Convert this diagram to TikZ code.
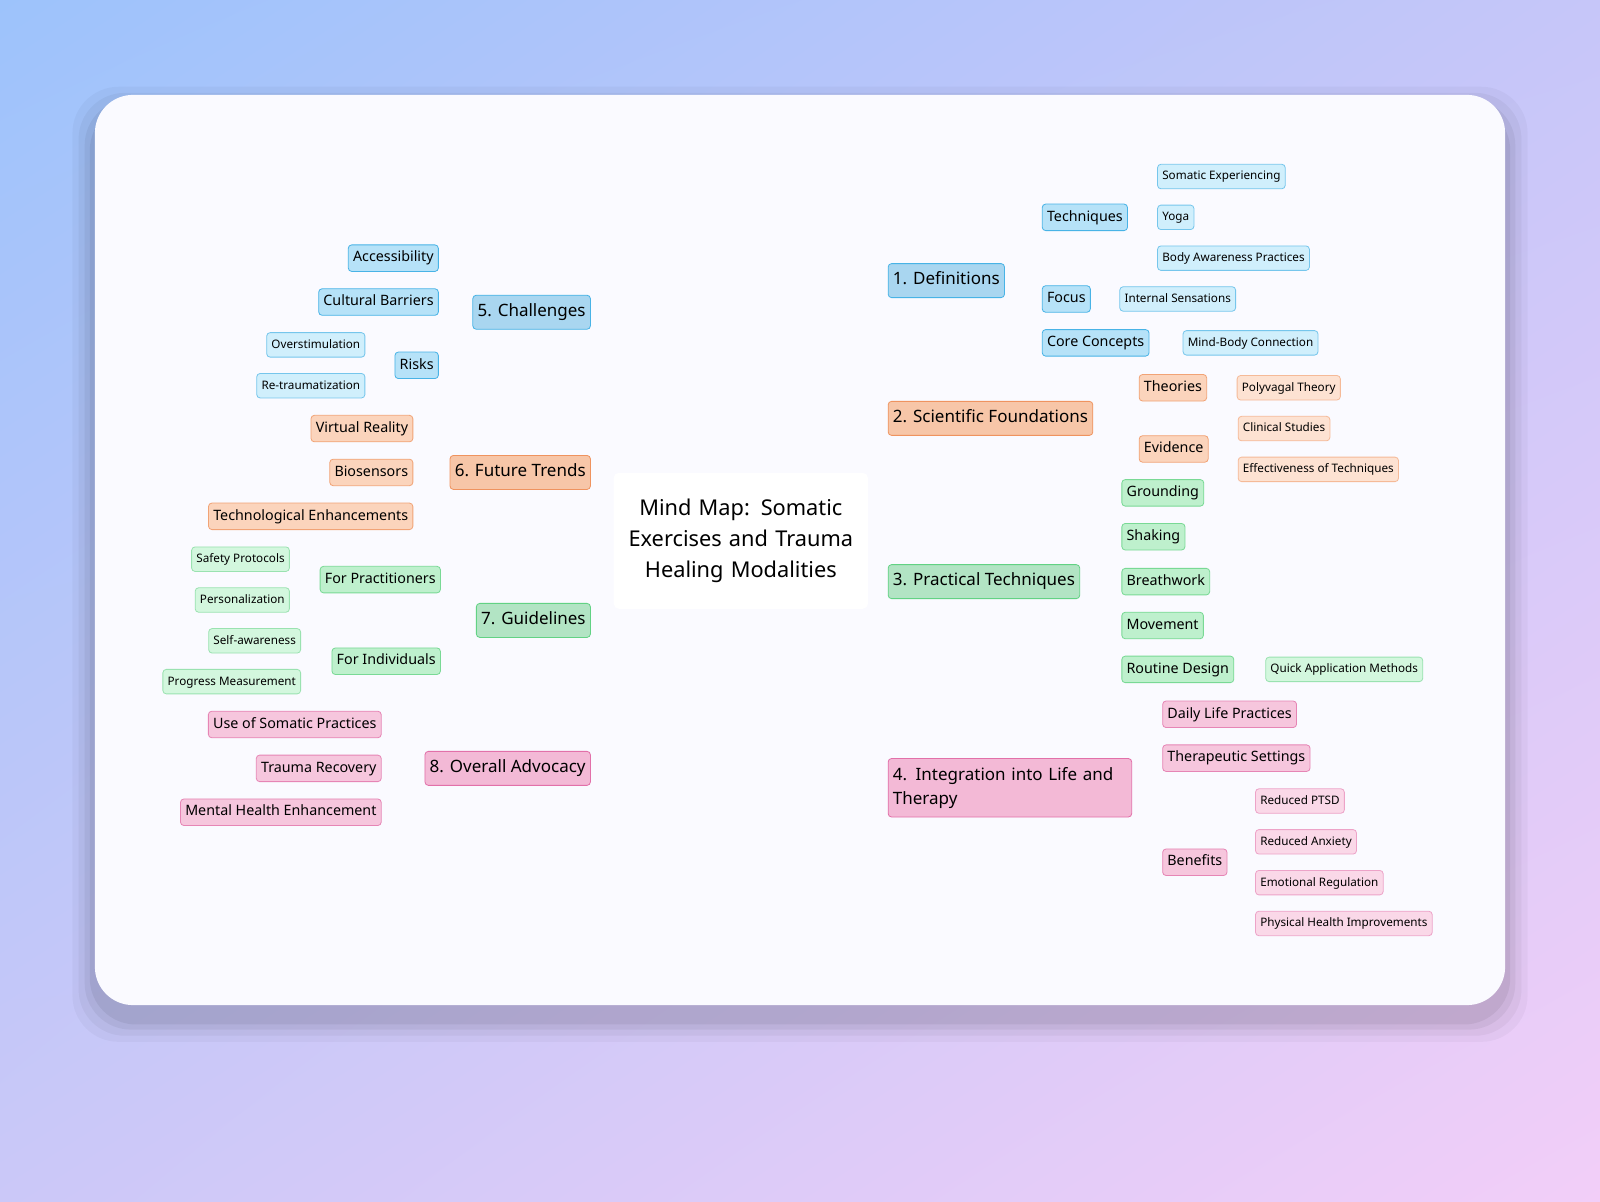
\documentclass[tikz,border=0pt]{standalone}
\usepackage{fontspec}
\setmainfont{Noto Sans}
\usetikzlibrary{backgrounds,shadings}

\definecolor{bgA}{HTML}{9DC3FB}
\definecolor{bgB}{HTML}{C6C6F9}
\definecolor{bgC}{HTML}{CBC8F8}
\definecolor{bgD}{HTML}{F2CEF8}
\definecolor{blueL}{HTML}{1AA0E0}\definecolor{blueM}{HTML}{0A86C8}
\definecolor{blueF}{HTML}{A9D6F0}\definecolor{blueG}{HTML}{B6E2F8}\definecolor{blueH}{HTML}{D0EFFC}
\definecolor{orL}{HTML}{E8651A}\definecolor{orF}{HTML}{F7C6A8}\definecolor{orG}{HTML}{FBD4BC}\definecolor{orH}{HTML}{FDE2D2}
\definecolor{grL}{HTML}{1FBF4F}\definecolor{grM}{HTML}{15A845}\definecolor{grF}{HTML}{B2E4C4}\definecolor{grG}{HTML}{BEF0CD}\definecolor{grH}{HTML}{D3F7DE}
\definecolor{pkL}{HTML}{D63384}\definecolor{pkF}{HTML}{F3B9D6}\definecolor{pkG}{HTML}{F6C6DD}\definecolor{pkH}{HTML}{FAD8E8}

\tikzset{
  box/.style={draw, rounded corners=2.5pt, line width=0.6pt, inner xsep=3.5pt, inner ysep=0pt},
  main/.style={box, font=\fontsize{12.5}{14}\selectfont\bfseries, minimum height=25pt, text height=9pt, text depth=3pt},
  sub/.style={box, font=\fontsize{10.5}{12}\selectfont, minimum height=19.5pt, text height=8pt, text depth=2.5pt},
  leaf/.style={box, font=\fontsize{8.6}{10}\selectfont, minimum height=18pt, text height=7pt, text depth=2pt},
  % colour sets
  bM/.style={main, fill=blueF, draw=blueL!80},  bS/.style={sub, fill=blueG, draw=blueL!80},  bT/.style={leaf, fill=blueH, draw=blueL!60},
  oM/.style={main, fill=orF, draw=orL!70},      oS/.style={sub, fill=orG, draw=orL!60},      oT/.style={leaf, fill=orH, draw=orL!45},
  gM/.style={main, fill=grF, draw=grL!70},      gS/.style={sub, fill=grG, draw=grL!60},      gT/.style={leaf, fill=grH, draw=grL!45},
  pM/.style={main, fill=pkF, draw=pkL!70},      pS/.style={sub, fill=pkG, draw=pkL!60},      pT/.style={leaf, fill=pkH, draw=pkL!45},
  trunk/.style={line width=2.4pt},
  twig/.style={line width=1.6pt},
  tip/.style={line width=1.2pt},
}

\begin{document}
\begin{tikzpicture}[x=0.75pt,y=-0.75pt]
    % Tlo
    \shade[upper left=bgA, upper right=bgB, lower left=bgC, lower right=bgD] (0,0) rectangle (1568,1177);
    \useasboundingbox (0,0) rectangle (1568,1177);

    % Karta
    \foreach \s/\o in {22/0.03,16/0.04,10/0.05,5/0.06}
      \fill[black,opacity=\o,rounded corners=34pt] (93-\s,93-\s+14) rectangle (1475+\s,985+\s+14);
    \fill[white!98!blue,rounded corners=28pt] (93,93) rectangle (1475,985);

    % Srodek
    \node[fill=white, rounded corners=4pt, minimum width=187pt, minimum height=100pt, text width=170pt, align=center,
          font=\fontsize{16}{22.5}\selectfont\bfseries] (center) at (726,530) {Mind Map: Somatic Exercises and Trauma Healing Modalities};
    \coordinate (c1) at (770,463);
    \coordinate (c2) at (792,463);
    \coordinate (c3) at (851,570);
    \coordinate (c4) at (790,597);
    \coordinate (c5) at (677,463);
    \coordinate (c6) at (604,465);
    \coordinate (c7) at (617,597);
    \coordinate (c8) at (660,597);

    % 1. Definitions
    \node[bM, anchor=west] (def) at (870,275) {1. Definitions};
    \node[bS, anchor=west] (tech) at (1021,213) {Techniques};
    \node[bS, anchor=west] (focus) at (1021,293) {Focus};
    \node[bS, anchor=west] (core) at (1021,336) {Core Concepts};
    \node[bT, anchor=west] (se) at (1134,173) {Somatic Experiencing};
    \node[bT, anchor=west] (yoga) at (1134,213) {Yoga};
    \node[bT, anchor=west] (bap) at (1134,253) {Body Awareness Practices};
    \node[bT, anchor=west] (intsens) at (1097,293) {Internal Sensations};
    \node[bT, anchor=west] (mbc) at (1159,336) {Mind-Body Connection};

    % 2. Scientific Foundations
    \node[oM, anchor=west] (sci) at (870,410) {2. Scientific Foundations};
    \node[oS, anchor=west] (theo) at (1116,380) {Theories};
    \node[oS, anchor=west] (evid) at (1116,440) {Evidence};
    \node[oT, anchor=west] (poly) at (1212,380) {Polyvagal Theory};
    \node[oT, anchor=west] (clin) at (1213,420) {Clinical Studies};
    \node[oT, anchor=west] (eff) at (1213,460) {Effectiveness of Techniques};

    % 3. Practical Techniques
    \node[gM, anchor=west] (prac) at (870,570) {3. Practical Techniques};
    \node[gS, anchor=west] (ground) at (1099,483) {Grounding};
    \node[gS, anchor=west] (shake) at (1099,526) {Shaking};
    \node[gS, anchor=west] (breath) at (1099,570) {Breathwork};
    \node[gS, anchor=west] (move) at (1099,613) {Movement};
    \node[gS, anchor=west] (routine) at (1099,656) {Routine Design};
    \node[gT, anchor=west] (quick) at (1240,656) {Quick Application Methods};

    % 4. Integration
    \node[pM, anchor=west, text width=172pt, align=left, minimum height=43pt, text height=, text depth=,
          font=\fontsize{12.5}{17.5}\selectfont\bfseries] (integ) at (870,772) {4. Integration into Life and Therapy};
    \node[pS, anchor=west] (daily) at (1139,700) {Daily Life Practices};
    \node[pS, anchor=west] (thera) at (1139,743) {Therapeutic Settings};
    \node[pS, anchor=west] (bene) at (1139,845) {Benefits};
    \node[pT, anchor=west] (ptsd) at (1230,785) {Reduced PTSD};
    \node[pT, anchor=west] (anx) at (1230,825) {Reduced Anxiety};
    \node[pT, anchor=west] (emo) at (1230,865) {Emotional Regulation};
    \node[pT, anchor=west] (phys) at (1230,905) {Physical Health Improvements};

    % 5. Challenges
    \node[bM, anchor=east] (chal) at (579,306) {5. Challenges};
    \node[bS, anchor=east] (access) at (430,253) {Accessibility};
    \node[bS, anchor=east] (cult) at (430,296) {Cultural Barriers};
    \node[bS, anchor=east] (risks) at (430,358) {Risks};
    \node[bT, anchor=east] (overst) at (358,338) {Overstimulation};
    \node[bT, anchor=east] (retra) at (358,378) {Re-traumatization};

    % 6. Future Trends
    \node[oM, anchor=east] (fut) at (579,463) {6. Future Trends};
    \node[oS, anchor=east] (vr) at (405,420) {Virtual Reality};
    \node[oS, anchor=east] (bio) at (405,463) {Biosensors};
    \node[oS, anchor=east] (techen) at (405,506) {Technological Enhancements};

    % 7. Guidelines
    \node[gM, anchor=east] (guide) at (579,608) {7. Guidelines};
    \node[gS, anchor=east] (forp) at (432,568) {For Practitioners};
    \node[gS, anchor=east] (fori) at (432,648) {For Individuals};
    \node[gT, anchor=east] (safe) at (284,548) {Safety Protocols};
    \node[gT, anchor=east] (pers) at (284,588) {Personalization};
    \node[gT, anchor=east] (selfa) at (295,628) {Self-awareness};
    \node[gT, anchor=east] (prog) at (295,668) {Progress Measurement};

    % 8. Overall Advocacy
    \node[pM, anchor=east] (adv) at (579,753) {8. Overall Advocacy};
    \node[pS, anchor=east] (usp) at (374,710) {Use of Somatic Practices};
    \node[pS, anchor=east] (trec) at (374,753) {Trauma Recovery};
    \node[pS, anchor=east] (mhe) at (374,796) {Mental Health Enhancement};

    \begin{scope}[on background layer]
      % galezie glowne
      \draw[trunk,blueM] (c1) to[out=75,in=180] (def.west);
      \draw[trunk,orL] (c2) to[out=55,in=180] (sci.west);
      \draw[trunk,grM] (c3) -- (prac.west);
      \draw[trunk,pkL] (c4) to[out=-78,in=180] (integ.west);
      \draw[trunk,blueM] (c5) to[out=105,in=0] (chal.east);
      \draw[trunk,orL] (c6) -- (fut.east);
      \draw[trunk,grM] (c7) to[out=-135,in=0] (guide.east);
      \draw[trunk,pkL] (c8) to[out=-105,in=0] (adv.east);

      % prawa strona
      \foreach \a/\b in {def/tech,def/focus,def/core}
        \draw[twig,blueL] (\a.east) to[out=0,in=180] (\b.west);
      \foreach \a/\b in {tech/se,tech/yoga,tech/bap,focus/intsens,core/mbc}
        \draw[tip,blueL] (\a.east) to[out=0,in=180] (\b.west);
      \foreach \a/\b in {sci/theo,sci/evid}
        \draw[twig,orL] (\a.east) to[out=0,in=180] (\b.west);
      \foreach \a/\b in {theo/poly,evid/clin,evid/eff}
        \draw[tip,orL!70] (\a.east) to[out=0,in=180] (\b.west);
      \foreach \a/\b in {prac/ground,prac/shake,prac/breath,prac/move,prac/routine}
        \draw[twig,grL] (\a.east) to[out=0,in=180] (\b.west);
      \draw[tip,grL!80] (routine.east) -- (quick.west);
      \foreach \a/\b in {integ/daily,integ/thera,integ/bene}
        \draw[twig,pkL] (\a.east) to[out=0,in=180] (\b.west);
      \foreach \a/\b in {bene/ptsd,bene/anx,bene/emo,bene/phys}
        \draw[tip,pkL!60] (\a.east) to[out=0,in=180] (\b.west);

      % lewa strona
      \foreach \a/\b in {chal/access,chal/cult,chal/risks}
        \draw[twig,blueL] (\a.west) to[out=180,in=0] (\b.east);
      \foreach \a/\b in {risks/overst,risks/retra}
        \draw[tip,blueL] (\a.west) to[out=180,in=0] (\b.east);
      \foreach \a/\b in {fut/vr,fut/bio,fut/techen}
        \draw[twig,orL] (\a.west) to[out=180,in=0] (\b.east);
      \foreach \a/\b in {guide/forp,guide/fori}
        \draw[twig,grL] (\a.west) to[out=180,in=0] (\b.east);
      \foreach \a/\b in {forp/safe,forp/pers,fori/selfa,fori/prog}
        \draw[tip,grL!70] (\a.west) to[out=180,in=0] (\b.east);
      \foreach \a/\b in {adv/usp,adv/trec,adv/mhe}
        \draw[twig,pkL] (\a.west) to[out=180,in=0] (\b.east);
    \end{scope}
\end{tikzpicture}
\end{document}
